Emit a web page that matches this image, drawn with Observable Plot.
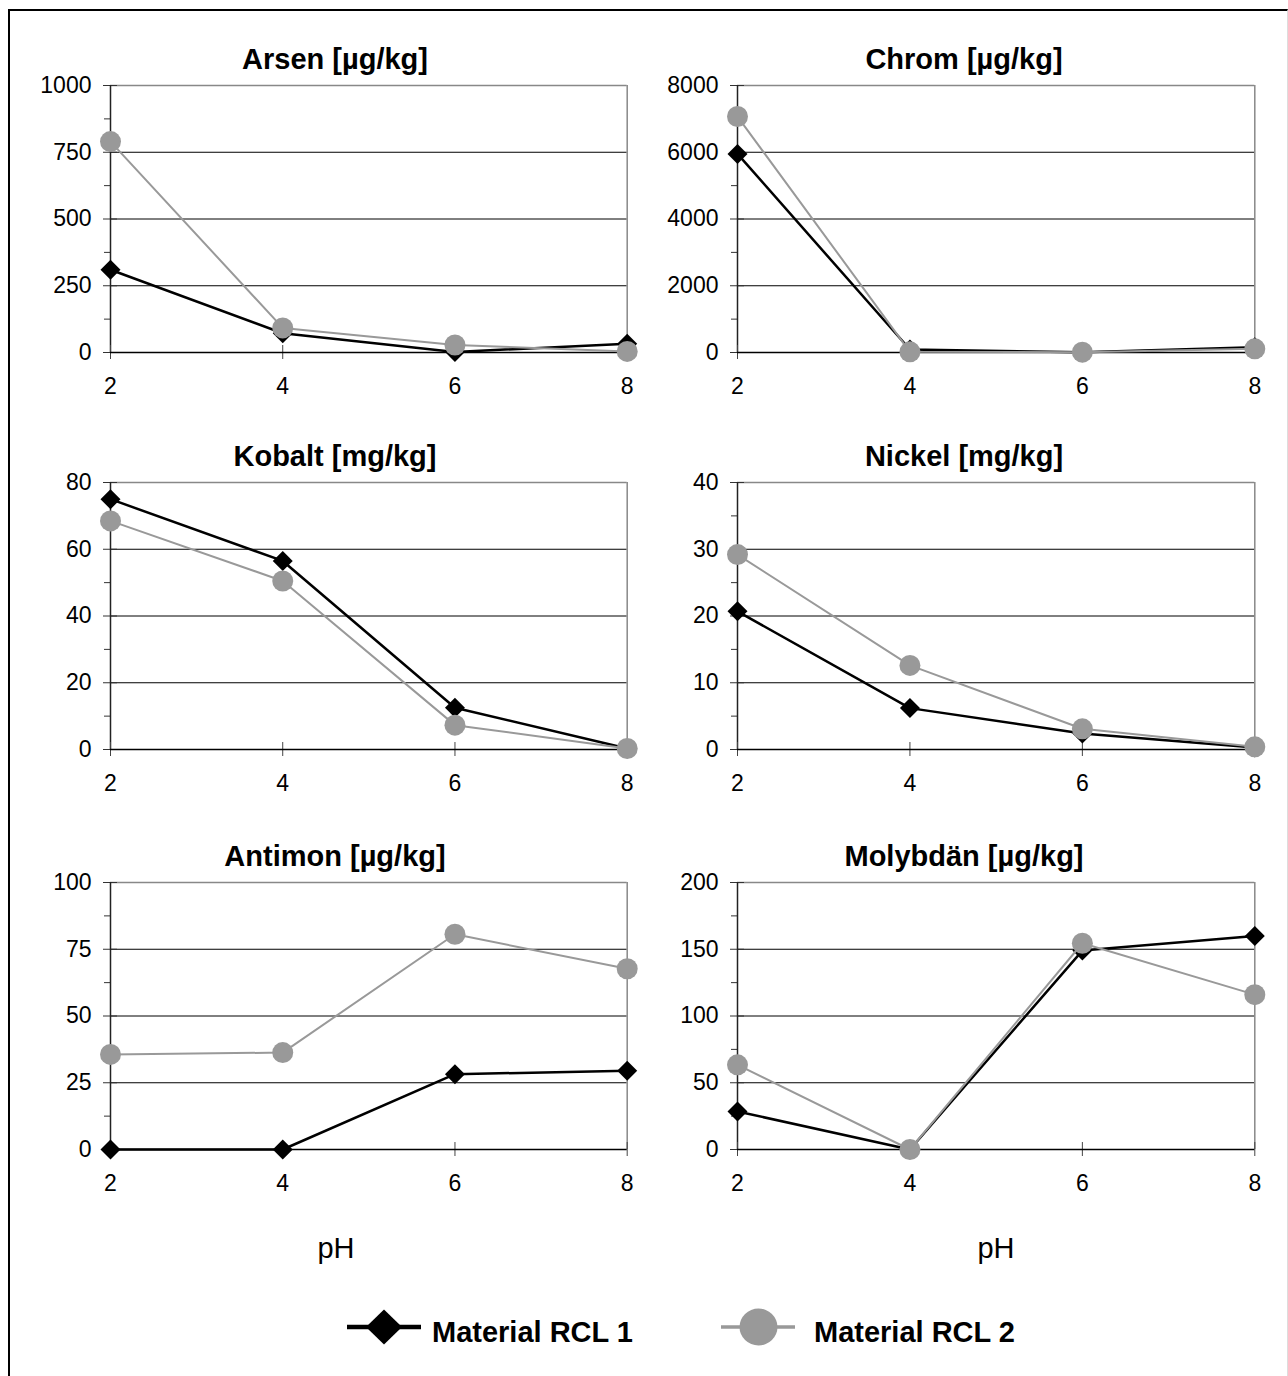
<!DOCTYPE html>
<html>
<head>
<meta charset="utf-8">
<script src="https://cdn.jsdelivr.net/npm/d3@7"></script>
<script src="https://cdn.jsdelivr.net/npm/@observablehq/plot@0.6"></script>
<style>
  html, body { margin: 0; padding: 0; background: #fff; }
  #page { position: relative; width: 1288px; height: 1376px; background: #fff; overflow: hidden;
          font-family: "Liberation Sans", Arial, sans-serif; color: #000; }
  #frame { position: absolute; left: 8px; top: 9px; width: 1280px; height: 1400px;
           border-top: 2.5px solid #000; border-left: 2.5px solid #000; border-right: 1px solid #ddd; box-sizing: border-box; }
  .panel { position: absolute; }
  .title { position: absolute; font-weight: bold; font-size: 29px; line-height: 1; white-space: nowrap; transform: translateX(-50%); }
  .axlabel { position: absolute; font-size: 29px; line-height: 1; white-space: nowrap; transform: translateX(-50%); }
  .legtext { position: absolute; font-weight: bold; font-size: 29px; line-height: 1; white-space: nowrap; }
  .swatch { position: absolute; }
</style>
</head>
<body>
<div id="page"><div id="frame"></div></div>
<script>
// ---- data ----
const pH = [2, 4, 6, 8];
const panelTitles = ["Arsen [µg/kg]", "Chrom [µg/kg]", "Kobalt [mg/kg]", "Nickel [mg/kg]", "Antimon [µg/kg]", "Molybdän [µg/kg]"];
const yMax  = [1000, 8000, 80, 40, 100, 200];
const yStep = [250, 2000, 20, 10, 25, 50];
const seriesNames = ["Material RCL 1", "Material RCL 2"];

const arsenRCL1    = [310, 72, 2, 33];
const arsenRCL2    = [790, 92, 28, 4];
const chromRCL1    = [5950, 90, 5, 160];
const chromRCL2    = [7070, 20, 10, 110];
const kobaltRCL1   = [75.0, 56.5, 12.5, 0.3];
const kobaltRCL2   = [68.5, 50.5, 7.3, 0.3];
const nickelRCL1   = [20.7, 6.2, 2.4, 0.3];
const nickelRCL2   = [29.2, 12.6, 3.1, 0.4];
const antimonRCL1  = [0, 0, 28.2, 29.5];
const antimonRCL2  = [35.6, 36.3, 80.6, 67.7];
const molybdaenRCL1 = [28.5, 0, 149, 160];
const molybdaenRCL2 = [63.4, 0, 154.5, 116];

const rcl1 = [arsenRCL1, chromRCL1, kobaltRCL1, nickelRCL1, antimonRCL1, molybdaenRCL1];
const rcl2 = [arsenRCL2, chromRCL2, kobaltRCL2, nickelRCL2, antimonRCL2, molybdaenRCL2];

// ---- layout ----
const page = document.getElementById("page");
const W = 644, PH = 267, MT = 10, MB = 50;
const plotTops = [84.5, 482, 882];
const colLeft = [0, 644];
const colML = [110, 93];
const colMR = [17.3, 33.7];
const titleX = [335, 964];
const titleBaselineOffset = 15.5;
const FONT = '"Liberation Sans", Arial, sans-serif';
const BLACK = "#000", GREY = "#999999";
const noText = () => "";
const plain = d => String(d);

for (let i = 0; i < 6; i++) {
  const col = i % 2, row = Math.floor(i / 2);
  const max = yMax[i], step = yStep[i];
  const majors = d3.range(0, max + step / 2, step);
  const minors = d3.range(step / 2, max, step);
  const d1 = pH.map((p, j) => ({pH: p, v: rcl1[i][j]}));
  const d2 = pH.map((p, j) => ({pH: p, v: rcl2[i][j]}));

  const chart = Plot.plot({
    width: W, height: MT + PH + MB,
    marginTop: MT, marginBottom: MB, marginLeft: colML[col], marginRight: colMR[col],
    style: {fontFamily: FONT, fontSize: "23px", color: "#000", background: "transparent", overflow: "visible"},
    x: {domain: [2, 8]},
    y: {domain: [0, max]},
    marks: [
      Plot.ruleY(majors.filter(t => t > 0 && t < max), {stroke: BLACK, strokeWidth: 1}),
      Plot.ruleY([max], {stroke: "#888", strokeWidth: 1.5}),
      Plot.ruleX([8], {stroke: "#888", strokeWidth: 1.5}),
      Plot.axisY(minors, {anchor: "left", tickSize: 6, tickFormat: noText, label: null, stroke: "#333", strokeOpacity: 1}),
      Plot.axisY(majors, {anchor: "left", tickSize: 14, dx: 7, tickFormat: noText, label: null, stroke: "#333", strokeOpacity: 1}),
      Plot.axisY(majors, {anchor: "left", tickSize: 0, tickPadding: 19, fontSize: 23, tickFormat: plain, label: null, fill: "#000"}),
      Plot.ruleX([2], {stroke: "#222", strokeWidth: 1.5}),
      Plot.axisX(pH, {anchor: "bottom", tickSize: 14, dy: -7, tickFormat: noText, label: null, stroke: "#444", strokeOpacity: 1}),
      Plot.axisX(pH, {anchor: "bottom", tickSize: 0, tickPadding: 25, fontSize: 23, tickFormat: plain, label: null, fill: "#000"}),
      Plot.ruleY([0], {stroke: BLACK, strokeWidth: 1.5}),
      Plot.line(d1, {x: "pH", y: "v", stroke: BLACK, strokeWidth: 2.5}),
      Plot.dot(d1, {x: "pH", y: "v", symbol: "diamond2", r: 9, fill: BLACK, stroke: "none"}),
      Plot.line(d2, {x: "pH", y: "v", stroke: GREY, strokeWidth: 2}),
      Plot.dot(d2, {x: "pH", y: "v", r: 10.5, fill: GREY, stroke: "none"})
    ]
  });
  const wrap = document.createElement("div");
  wrap.className = "panel";
  wrap.style.left = colLeft[col] + "px";
  wrap.style.top = (plotTops[row] - MT) + "px";
  wrap.style.width = W + "px";
  wrap.appendChild(chart);
  page.appendChild(wrap);

  const t = document.createElement("div");
  t.className = "title";
  t.textContent = panelTitles[i];
  t.style.left = titleX[col] + "px";
  t.style.top = (plotTops[row] - titleBaselineOffset - 24.3) + "px";
  page.appendChild(t);
}

// x-axis labels "pH"
[[336, 1233.5], [996, 1233.5]].forEach(([x, y]) => {
  const d = document.createElement("div");
  d.className = "axlabel";
  d.textContent = "pH";
  d.style.left = x + "px";
  d.style.top = y + "px";
  page.appendChild(d);
});

// legend
const legendItems = [
  {name: seriesNames[0], color: BLACK, sym: "diamond", lineW: 4.5, lx: 347, tx: 432},
  {name: seriesNames[1], color: GREY, sym: "circle", lineW: 3.5, lx: 721, tx: 814}
];
const ns = "http://www.w3.org/2000/svg";
legendItems.forEach(it => {
  const svg = document.createElementNS(ns, "svg");
  svg.setAttribute("width", 76); svg.setAttribute("height", 44);
  svg.setAttribute("class", "swatch");
  svg.style.left = it.lx + "px"; svg.style.top = (1327 - 22) + "px";
  const ln = document.createElementNS(ns, "line");
  ln.setAttribute("x1", 0); ln.setAttribute("x2", 74); ln.setAttribute("y1", 22); ln.setAttribute("y2", 22);
  ln.setAttribute("stroke", it.color); ln.setAttribute("stroke-width", it.lineW);
  svg.appendChild(ln);
  if (it.sym === "diamond") {
    const p = document.createElementNS(ns, "path");
    p.setAttribute("d", "M37,4.5L55,22L37,39.5L19,22Z");
    p.setAttribute("fill", it.color);
    svg.appendChild(p);
  } else {
    const c = document.createElementNS(ns, "ellipse");
    c.setAttribute("cx", 37.5); c.setAttribute("cy", 22); c.setAttribute("rx", 19); c.setAttribute("ry", 18.5);
    c.setAttribute("fill", it.color);
    svg.appendChild(c);
  }
  page.appendChild(svg);
  const t = document.createElement("div");
  t.className = "legtext";
  t.textContent = it.name;
  t.style.left = it.tx + "px";
  t.style.top = "1317.5px";
  page.appendChild(t);
});
</script>
</body>
</html>
